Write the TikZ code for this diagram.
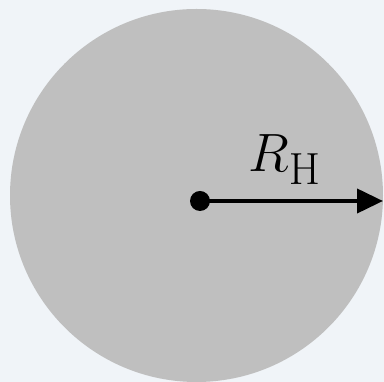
\documentclass[tikz,border=0pt]{standalone}
\usepackage{amsmath}
\usepackage{tikz}
\usetikzlibrary{arrows.meta,positioning}

\definecolor{bgpale}{RGB}{240,244,248}
\definecolor{horizongray}{RGB}{191,191,191}

\begin{document}
\begin{tikzpicture}[x=1pt, y=1pt, every node/.style={font=\Huge}]
    \fill[bgpale] (0,0) rectangle (384,382);
    \useasboundingbox (0,0) rectangle (384,382);
    \fill[horizongray] (196.5,186.5) circle (186.5);
    \node[circle, fill=black, inner sep=0pt, minimum size=20pt] (centre) at (200,181) {};
    \coordinate (rim) at (383,181);
    \draw[line width=4pt, -{Triangle[length=26pt, width=24pt]}] (centre.center) -- (rim);
    \node[anchor=base, scale=2.17, transform shape] (radius) at (285,210) {$R_{\mathrm{H}}$};
\end{tikzpicture}
\end{document}
